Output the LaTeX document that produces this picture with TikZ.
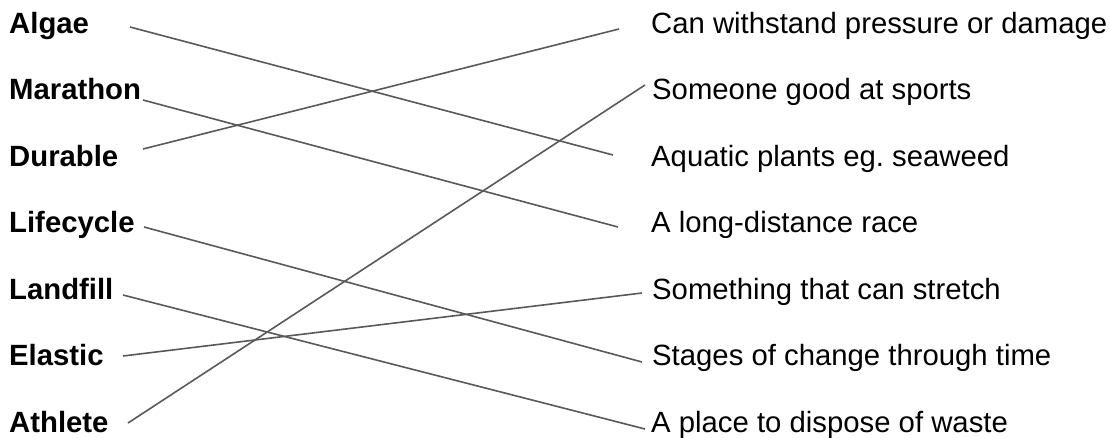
\documentclass[tikz,border=0pt]{standalone}
\usepackage{fontspec}
\setmainfont{Liberation Sans}
\frenchspacing
\begin{document}
\begin{tikzpicture}[x=1pt,y=-1pt,
  term/.style={anchor=base west,inner sep=0pt,font=\fontsize{29.3}{31}\selectfont\bfseries},
  defn/.style={anchor=base west,inner sep=0pt,font=\fontsize{29.3}{31}\selectfont},
  link/.style={draw=black!65,line width=1.6pt}]
\useasboundingbox (0,0) rectangle (1109,437);
% left terms
\node[term] (algae) at (9,33) {Algae};
\node[term] (marathon) at (9,99.5) {Marathon};
\node[term] (durable) at (9,166) {Durable};
\node[term] (lifecycle) at (9,232.5) {Lifecycle};
\node[term] (landfill) at (9,299) {Landfill};
\node[term] (elastic) at (9,365.5) {Elastic};
\node[term] (athlete) at (9,432) {Athlete};
% right definitions
\node[defn] (can) at (651,33) {Can withstand pressure or damage};
\node[defn] (someone) at (652,99.5) {Someone good at sports};
\node[defn] (aquatic) at (651,166) {Aquatic plants eg. seaweed};
\node[defn] (long) at (651,232.5) {A long-distance race};
\node[defn] (stretch) at (652,299) {Something that can stretch};
\node[defn] (stages) at (652,365.5) {Stages of change through time};
\node[defn] (place) at (651,432) {A place to dispose of waste};
% connector ends
\coordinate (algaeR) at (130,27);
\coordinate (marathonR) at (143,100);
\coordinate (durableR) at (143,149);
\coordinate (lifecycleR) at (144,227);
\coordinate (landfillR) at (123,295);
\coordinate (elasticR) at (123,356);
\coordinate (athleteR) at (128,423);
\coordinate (canL) at (619,29);
\coordinate (someoneL) at (645,85);
\coordinate (aquaticL) at (613,155);
\coordinate (longL) at (618,227);
\coordinate (stretchL) at (642,293);
\coordinate (stagesL) at (642,362);
\coordinate (placeL) at (645,429);
% connectors
\draw[link] (algaeR) -- (aquaticL);
\draw[link] (marathonR) -- (longL);
\draw[link] (durableR) -- (canL);
\draw[link] (lifecycleR) -- (stagesL);
\draw[link] (landfillR) -- (placeL);
\draw[link] (elasticR) -- (stretchL);
\draw[link] (athleteR) -- (someoneL);
\end{tikzpicture}
\end{document}
